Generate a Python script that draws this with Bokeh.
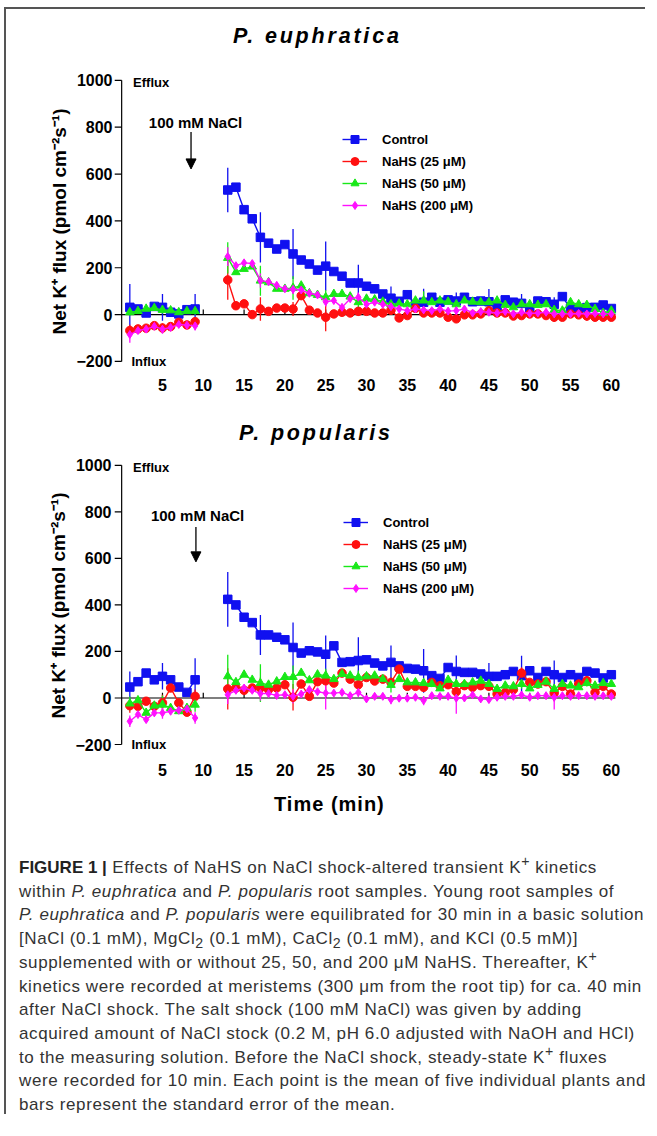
from bokeh.plotting import figure
from bokeh.models import (Range1d, FixedTicker, Label, Arrow, NormalHead,
                          Legend, LegendItem, Div)
from bokeh.layouts import column
from bokeh.embed import file_html
from bokeh.resources import INLINE

FONT = "Liberation Sans"

# ---------------- data ----------------
time_pre = [1, 2, 3, 4, 5, 6, 7, 8, 9]
time_post = [13, 14, 15, 16, 17, 18, 19, 20, 21, 22, 23, 24, 25, 26, 27, 28, 29, 30,
             31, 32, 33, 34, 35, 36, 37, 38, 39, 40, 41, 42, 43, 44, 45, 46, 47, 48,
             49, 50, 51, 52, 53, 54, 55, 56, 57, 58, 59, 60]
err_times = [1, 5, 9, 13, 17, 21, 25, 29, 33, 37, 41, 45, 49, 53, 57]
x_ticks = [5, 10, 15, 20, 25, 30, 35, 40, 45, 50, 55, 60]
y_ticks = [-200, 0, 200, 400, 600, 800, 1000]
series_names = ["Control", "NaHS (25 μM)", "NaHS (50 μM)", "NaHS (200 μM)"]

# P. euphratica
eu_control_pre = [31, 24, 7, 35, 31, 10, 3, 21, 24]
eu_control_post = [532, 544, 448, 409, 330, 305, 280, 299, 259, 233, 216, 190, 207, 184, 164,
                   135, 135, 121, 110, 88, 70, 57, 85, 43, 53, 74, 53, 63, 58, 74, 55, 58, 55,
                   34, 63, 53, 48, 26, 58, 55, 44, 77, 26, 23, 30, 31, 41, 26]
eu_n25_pre = [-68, -61, -58, -47, -57, -51, -33, -44, -30]
eu_n25_post = [148, 38, 46, 0, 24, 14, 28, 28, 24, 81, 19, 7, -11, 3, 10, 7, 14, 14, 7, 7,
               19, -14, -4, 27, 7, 7, 7, -11, -18, -1, -1, 3, 17, 7, 7, -6, -4, 3, 3, -4,
               -11, -11, 3, -1, -6, -11, -11, -11]
eu_n50_pre = [10, 15, 25, 28, 20, 18, 10, 15, 15]
eu_n50_post = [242, 181, 195, 205, 145, 138, 110, 110, 114, 124, 91, 84, 74, 88, 88, 77, 53,
               68, 65, 55, 44, 47, 44, 60, 60, 53, 60, 55, 44, 60, 55, 53, 53, 60, 41, 31,
               44, 44, 41, 44, 20, 17, 53, 44, 41, 24, 7, 17]
eu_n200_pre = [-85, -68, -62, -50, -62, -55, -42, -45, -48]
eu_n200_post = [248, 209, 221, 218, 145, 140, 125, 110, 108, 105, 91, 84, 55, 60, 31, 68, 74,
                44, 53, 44, 34, 24, 17, 24, 20, 17, 24, 15, 17, 24, 7, 13, 10, 7, 13, 3, 10,
                5, 7, 10, 3, 3, 3, 5, 3, 5, 3, 3]
eu_control_err = [100, 57, 64, 95, 107, 107, 105, 78, 50, 57, 36, 54, 40, 30, 20]
eu_n25_err = [25, 20, 20, 85, 50, 30, 60, 20, 20, 15, 15, 10, 10, 20, 20]
eu_n50_err = [15, 15, 15, 67, 64, 50, 30, 35, 40, 40, 20, 20, 20, 15, 15]
eu_n200_err = [35, 20, 20, 40, 30, 20, 20, 20, 15, 15, 10, 10, 10, 10, 10]

# P. popularis
po_control_pre = [47, 70, 107, 78, 93, 78, 47, 24, 78]
po_control_post = [424, 400, 347, 324, 271, 271, 261, 250, 217, 193, 203, 198, 188, 224, 153,
                   156, 161, 164, 150, 138, 153, 138, 127, 124, 117, 96, 84, 131, 114, 110,
                   110, 103, 93, 93, 100, 114, 96, 117, 88, 114, 100, 88, 100, 88, 114, 107,
                   86, 100]
po_n25_pre = [-33, -36, -14, -36, -21, 43, -21, -61, 7]
po_n25_post = [39, 43, 33, 43, 43, 36, 43, 57, 3, 60, 7, 70, 74, 64, 107, 81, 57, 88, 73, 81,
               67, 124, 50, 50, 46, 67, 53, 57, 27, 53, 46, 53, 50, 17, 24, 36, 107, 67, 60,
               70, 21, 50, 17, 60, 74, 24, 50, 17]
po_n50_pre = [-24, -10, -64, -33, -29, -43, -57, -43, -29]
po_n50_post = [93, 68, 100, 78, 64, 57, 71, 90, 90, 108, 76, 101, 96, 81, 103, 96, 88, 93, 96,
               81, 56, 81, 67, 67, 64, 60, 41, 78, 60, 60, 67, 74, 60, 39, 53, 50, 60, 41, 56,
               70, 39, 60, 53, 46, 64, 53, 64, 60]
po_n200_pre = [-100, -71, -93, -64, -64, -57, -53, -47, -86]
po_n200_post = [14, 33, 43, 33, 19, 19, 11, 14, 7, 17, 36, 27, 21, 21, 24, 10, 24, -4, 7, 7,
                -7, -1, -1, 3, -11, 10, 7, 7, -1, 0, 13, -4, -7, 3, 7, 7, 13, 3, 10, 10, 3,
                10, 7, 10, 10, 7, 10, 7]
po_control_err = [67, 57, 93, 118, 86, 107, 81, 100, 73, 94, 69, 57, 86, 61, 15]
po_n25_err = [30, 35, 30, 89, 45, 57, 40, 25, 20, 20, 30, 20, 25, 35, 20]
po_n50_err = [30, 40, 30, 93, 81, 50, 30, 30, 32, 20, 20, 20, 20, 20, 15]
po_n200_err = [25, 25, 25, 40, 30, 30, 71, 20, 20, 20, 67, 15, 15, 53, 15]

COLORS = ["#1010F0", "#FF1010", "#18E818", "#FF10FF"]
MARKERS = ["square", "circle", "triangle", "diamond"]
SIZES = [8.5, 8.5, 8.5, 8]


def panel(pre, post, errs, min_left, min_right, min_top, min_bottom, height,
          legend_loc, arrow_x, text_x, nacl_y, label_standoff, tick_standoff):
    p = figure(width=639, height=height, output_backend="svg", toolbar_location=None,
               x_range=Range1d(-1, 61), y_range=Range1d(-230, 1025),
               min_border_left=min_left, min_border_right=min_right,
               min_border_top=min_top, min_border_bottom=min_bottom)
    p.outline_line_color = None
    p.xgrid.grid_line_color = None
    p.ygrid.grid_line_color = None
    p.background_fill_color = None
    p.border_fill_color = None

    xa = p.xaxis[0]
    xa.ticker = FixedTicker(ticks=x_ticks)
    xa.axis_line_color = None
    xa.major_tick_line_color = None
    xa.minor_tick_line_color = None
    xa.major_tick_out = 0
    xa.major_tick_in = 0
    xa.major_label_standoff = label_standoff
    xa.major_label_text_font = FONT
    xa.major_label_text_font_style = "bold"
    xa.major_label_text_font_size = "16px"
    xa.major_label_text_color = "black"

    ya = p.yaxis[0]
    ya.ticker = FixedTicker(ticks=y_ticks)
    ya.axis_line_color = None
    ya.major_tick_line_color = None
    ya.minor_tick_line_color = None
    ya.major_tick_out = 0
    ya.major_tick_in = 0
    ya.major_label_standoff = tick_standoff
    ya.major_label_text_font = FONT
    ya.major_label_text_font_style = "bold"
    ya.major_label_text_font_size = "16px"
    ya.major_label_text_color = "black"
    ya.axis_label = "Net K⁺ flux (pmol cm⁻²s⁻¹)"
    ya.axis_label_text_font = FONT
    ya.axis_label_text_font_style = "bold"
    ya.axis_label_text_font_size = "19px"
    ya.axis_label_text_color = "black"
    ya.axis_label_standoff = 3

    # drawn y axis line (from -200 to 1000) with outward ticks
    p.segment(x0=[0], y0=[y_ticks[0]], x1=[0], y1=[y_ticks[-1]],
              line_color="black", line_width=1.2)
    p.segment(x0=[-0.85] * len(y_ticks), y0=y_ticks, x1=[0] * len(y_ticks), y1=y_ticks,
              line_color="black", line_width=1.2)
    # zero line with upward ticks
    p.segment(x0=[0], y0=[0], x1=[60.5], y1=[0], line_color="black", line_width=1.2)
    p.segment(x0=x_ticks, y0=[0] * len(x_ticks), x1=x_ticks, y1=[22] * len(x_ticks),
              line_color="black", line_width=1.2)

    items = []
    for i in range(4):
        c = COLORS[i]
        allx = time_pre + time_post
        ally = pre[i] + post[i]
        lookup = dict(zip(allx, ally))
        ey = [lookup[t] for t in err_times]
        p.segment(x0=err_times, y0=[a - b for a, b in zip(ey, errs[i])],
                  x1=err_times, y1=[a + b for a, b in zip(ey, errs[i])],
                  line_color=c, line_width=1.3)
    for i in range(4):
        c = COLORS[i]
        p.line(time_pre, pre[i], line_color=c, line_width=1.4)
        p.scatter(time_pre, pre[i], marker=MARKERS[i], size=SIZES[i],
                  fill_color=c, line_color=c)
        l2 = p.line(time_post, post[i], line_color=c, line_width=1.4)
        s2 = p.scatter(time_post, post[i], marker=MARKERS[i], size=SIZES[i],
                       fill_color=c, line_color=c)
        items.append(LegendItem(label=series_names[i], renderers=[l2, s2]))

    leg = Legend(items=items, location=legend_loc, glyph_width=25, glyph_height=20,
                 label_height=20, spacing=2, label_standoff=15, padding=0, margin=0,
                 border_line_color=None, background_fill_alpha=0,
                 label_text_font=FONT, label_text_font_style="bold",
                 label_text_font_size="13px", label_text_color="black")
    p.add_layout(leg)

    p.add_layout(Label(x=1.4, y=990, text="Efflux", text_align="left",
                       text_baseline="middle", text_font=FONT, text_font_style="bold",
                       text_font_size="13px", text_color="black"))
    p.add_layout(Label(x=1.2, y=-200, text="Influx", text_align="left",
                       text_baseline="middle", text_font=FONT, text_font_style="bold",
                       text_font_size="13px", text_color="black"))
    p.add_layout(Label(x=text_x, y=nacl_y[0], text="100 mM NaCl", text_align="center",
                       text_baseline="middle", text_font=FONT, text_font_style="bold",
                       text_font_size="15px", text_color="black"))
    p.add_layout(Arrow(end=NormalHead(size=10, fill_color="black", line_color="black"),
                       x_start=arrow_x, y_start=nacl_y[1], x_end=arrow_x,
                       y_end=nacl_y[2], line_color="black", line_width=1.3))
    return p


p1 = panel([eu_control_pre, eu_n25_pre, eu_n50_pre, eu_n200_pre],
           [eu_control_post, eu_n25_post, eu_n50_post, eu_n200_post],
           [eu_control_err, eu_n25_err, eu_n50_err, eu_n200_err],
           103, 26, 15, 31, 340, (229, 153), 8.5, 9.05, [821, 780, 622], 10, 1)
p2 = panel([po_control_pre, po_n25_pre, po_n50_pre, po_n200_pre],
           [po_control_post, po_n25_post, po_n50_post, po_n200_post],
           [po_control_err, po_n25_err, po_n50_err, po_n200_err],
           107, 22, 5, 33, 330, (230, 153), 9.1, 9.3, [785, 735, 585], 12, 2)

TITLE_STYLE = ("font-family:'Liberation Sans',Arial,sans-serif;font-weight:bold;"
               "font-style:italic;font-size:21.5px;letter-spacing:2.8px;color:#000;"
               "line-height:24px;white-space:nowrap;")
t1 = Div(text='<div style="%spadding:15px 0 0 227px;">P. euphratica</div>' % TITLE_STYLE,
         width=639, height=50, margin=0)
t2 = Div(text='<div style="%spadding:22px 0 0 233px;">P. popularis</div>' % TITLE_STYLE,
         width=639, height=55, margin=0)
tx = Div(text='<div style="font-family:\'Liberation Sans\',Arial,sans-serif;'
              'font-weight:bold;font-size:20px;letter-spacing:1px;color:#000;'
              'line-height:24px;white-space:nowrap;padding:8px 0 0 268px;">Time (min)</div>',
         width=639, height=40, margin=0)

caption_html = (
    '<div style="font-family:\'Liberation Sans\',Arial,sans-serif;font-size:17px;'
    'letter-spacing:0.6px;line-height:23.7px;color:#333;padding:32px 0 0 13px;'
    'white-space:nowrap;">'
    '<b style="color:#222;letter-spacing:0">FIGURE 1 |</b> Effects of NaHS on NaCl '
    'shock-altered transient K<sup style="line-height:0">+</sup> kinetics<br>'
    'within <i>P. euphratica</i> and <i>P. popularis</i> root samples. Young root samples of<br>'
    '<i>P. euphratica</i> and <i>P. popularis</i> were equilibrated for 30 min in a basic solution<br>'
    '[NaCl (0.1 mM), MgCl<sub style="line-height:0">2</sub> (0.1 mM), '
    'CaCl<sub style="line-height:0">2</sub> (0.1 mM), and KCl (0.5 mM)]<br>'
    'supplemented with or without 25, 50, and 200 μM NaHS. Thereafter, '
    'K<sup style="line-height:0">+</sup><br>'
    'kinetics were recorded at meristems (300 μm from the root tip) for ca. 40 min<br>'
    'after NaCl shock. The salt shock (100 mM NaCl) was given by adding<br>'
    'acquired amount of NaCl stock (0.2 M, pH 6.0 adjusted with NaOH and HCl)<br>'
    'to the measuring solution. Before the NaCl shock, steady-state '
    'K<sup style="line-height:0">+</sup> fluxes<br>'
    'were recorded for 10 min. Each point is the mean of five individual plants and<br>'
    'bars represent the standard error of the mean.'
    '</div>'
)
cap = Div(text=caption_html, width=639, height=290, margin=0)

layout = column(t1, p1, t2, p2, tx, cap, spacing=0,
                styles={"border-top": "2px solid #555", "border-left": "2px solid #555",
                        "margin-top": "7px", "margin-left": "4px"})

open("out.html", "w").write(file_html(layout, INLINE))
